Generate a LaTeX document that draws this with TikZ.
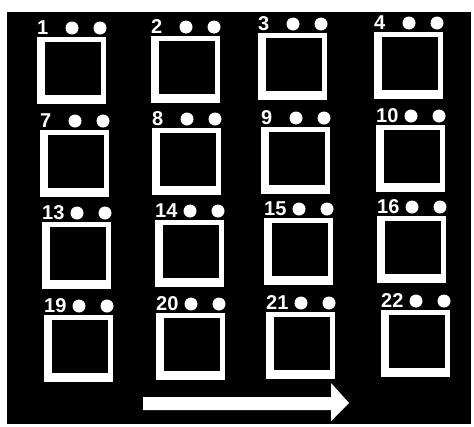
\documentclass[tikz,border=0pt]{standalone}
\usepackage{fontspec}
\setmainfont{Liberation Sans}
\begin{document}
\begin{tikzpicture}[x=1pt,y=-1pt,
  lbl/.style={text=white,font=\bfseries\fontsize{20}{20}\selectfont,anchor=base west,inner sep=0pt},
  dotnode/.style={circle,fill=white,inner sep=0pt,minimum size=13pt},
  frame/.style={fill=white,inner sep=0pt,minimum width=69pt,minimum height=67pt,anchor=north west},
  hole/.style={fill=black}]
\fill[white] (0,0) rectangle (474,426);
\useasboundingbox (0,0) rectangle (474,426);
\fill[black] (7,12) rectangle (471,424);
\foreach \n/\x/\y in {1/37/37, 2/151/36, 3/258/33, 4/374/32,
                      7/40/130, 8/152/128, 9/261/127, 10/376/125,
                      13/42/222, 14/155/220, 15/264/218, 16/377/216,
                      19/44/315, 20/156/313, 21/266/312, 22/381/310}{
  \node[frame] (f\n) at (\x,\y) {};
  \fill[hole] (\x+8,\y+5) rectangle (\x+64,\y+58);
  \node[lbl] (l\n) at (\x,\y-3) {\n};
  \node[dotnode] (a\n) at (\x+35,\y-9) {};
  \node[dotnode] (b\n) at (\x+63,\y-9) {};
}
\fill[white] (143,397) -- (331,397) -- (331,383) -- (349,403) -- (331,421) -- (331,410) -- (143,410) -- cycle;
\end{tikzpicture}
\end{document}
